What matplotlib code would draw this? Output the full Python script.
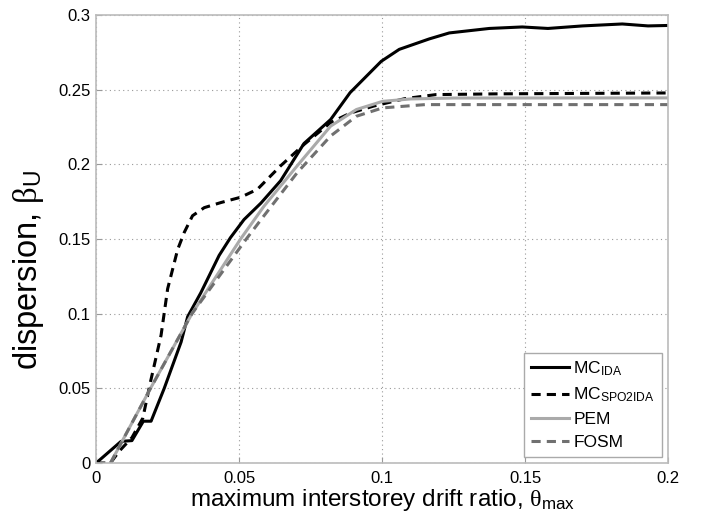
import matplotlib.pyplot as plt

plt.rcParams['font.family'] = ['Liberation Sans', 'DejaVu Sans']
plt.rcParams['mathtext.fontset'] = 'custom'
plt.rcParams['mathtext.rm'] = 'Liberation Sans'
plt.rcParams['mathtext.it'] = 'Liberation Serif'

# curves
mc_ida_x = [0, 0.0087, 0.0125, 0.0165, 0.0192, 0.0238, 0.0297, 0.032, 0.0366, 0.043, 0.047,
            0.0517, 0.0576, 0.0645, 0.0727, 0.082, 0.0888, 0.0997, 0.106, 0.1165, 0.1235,
            0.1375, 0.149, 0.158, 0.1701, 0.184, 0.193, 0.2]
mc_ida_y = [0, 0.0145, 0.015, 0.028, 0.028, 0.05, 0.081, 0.098, 0.114, 0.139, 0.151,
            0.163, 0.174, 0.189, 0.214, 0.23, 0.248, 0.269, 0.277, 0.284, 0.288,
            0.291, 0.292, 0.291, 0.2927, 0.294, 0.2927, 0.293]

spo_x = [0, 0.005, 0.008, 0.0125, 0.0163, 0.019, 0.0227, 0.025, 0.0285, 0.0308, 0.0337,
         0.0378, 0.0436, 0.0506, 0.0564, 0.0645, 0.0727, 0.082, 0.089, 0.097, 0.108,
         0.1188, 0.14, 0.2]
spo_y = [0, 0, 0.0078, 0.017, 0.03, 0.0544, 0.0856, 0.1167, 0.143, 0.1544, 0.1656,
         0.171, 0.1744, 0.178, 0.1833, 0.199, 0.2133, 0.228, 0.2344, 0.239, 0.244,
         0.2467, 0.2472, 0.2478]

pem_x = [0.005, 0.019, 0.0335, 0.0505, 0.0587, 0.0703, 0.082, 0.091, 0.1002, 0.11, 0.125, 0.2]
pem_y = [0, 0.05, 0.1, 0.15, 0.172, 0.199, 0.2256, 0.2367, 0.2422, 0.2438, 0.2444, 0.2445]

fosm_x = [0.005, 0.019, 0.0335, 0.0525, 0.0587, 0.0703, 0.082, 0.091, 0.1002, 0.115, 0.2]
fosm_y = [0, 0.05, 0.1, 0.15, 0.1656, 0.1944, 0.219, 0.2322, 0.2378, 0.24, 0.24]

xticks = [0, 0.05, 0.1, 0.15, 0.2]
yticks = [0, 0.05, 0.1, 0.15, 0.2, 0.25, 0.3]

fig = plt.figure(figsize=(7.02, 5.23), dpi=100)
ax = fig.add_axes([0.137, 0.1147, 0.8146, 0.8566])

ax.plot(mc_ida_x, mc_ida_y, color='black', linewidth=2.2, label='MC$_{\\rm IDA}$')
ax.plot(spo_x, spo_y, color='black', linewidth=2.2, linestyle=(0, (3, 2)),
        label='MC$_{\\rm SPO2IDA}$')
ax.plot(pem_x, pem_y, color='#aaaaaa', linewidth=2.2, label='PEM')
ax.plot(fosm_x, fosm_y, color='#707070', linewidth=2.2, linestyle=(0, (3, 2)), label='FOSM')

ax.set_xlim(0, 0.2)
ax.set_ylim(0, 0.3)
ax.set_xticks(xticks)
ax.set_xticklabels(['0', '0.05', '0.1', '0.15', '0.2'])
ax.set_yticks(yticks)
ax.set_yticklabels(['0', '0.05', '0.1', '0.15', '0.2', '0.25', '0.3'])
ax.tick_params(direction='in', length=4, color='#999999', labelsize=12)
ax.tick_params(axis='x', pad=5.5)
ax.tick_params(axis='y', pad=4)
ax.grid(True, linestyle=(0, (1, 3)), color='#999999', linewidth=0.8)
for s in ax.spines.values():
    s.set_color('#bbbbbb')
    s.set_linewidth(1.2)

ax.set_xlabel('maximum interstorey drift ratio, $\\theta_{\\rm max}$', fontsize=17.5)
ax.xaxis.set_label_coords(0.5, -0.054)
ax.set_ylabel('dispersion, $\\beta_{\\rm U}$', fontsize=23.5)
ax.yaxis.set_label_coords(-0.088, 0.43)

leg = ax.legend(loc='lower right', fontsize=12.5, fancybox=False, framealpha=1,
                edgecolor='#aaaaaa', handlelength=2.2, handletextpad=0.25,
                borderaxespad=0.35, labelspacing=0.45, borderpad=0.4)
leg.get_frame().set_linewidth(1.0)

fig.savefig('out.png', dpi=100)
